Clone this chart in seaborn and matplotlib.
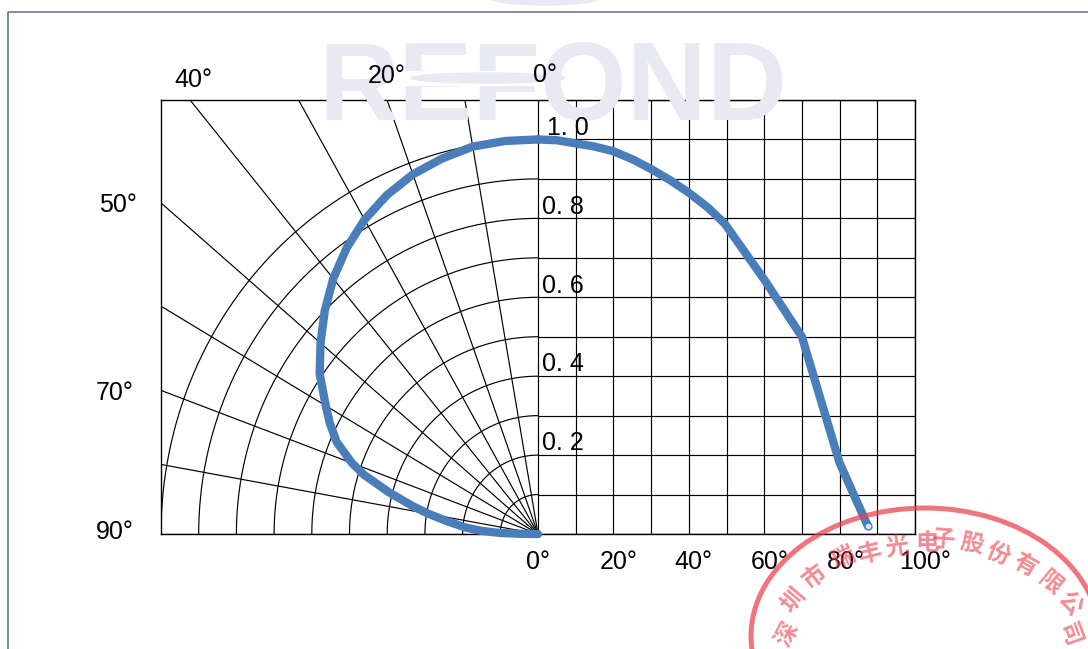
import numpy as np
import pandas as pd
import matplotlib
matplotlib.use("Agg")
import matplotlib.pyplot as plt
from matplotlib.lines import Line2D
from matplotlib.patches import Ellipse, Rectangle
import seaborn as sns

# Left half: angle (deg) / relative intensity
left_angle = [0, 5, 10, 15, 20, 25, 30, 35, 40, 45, 50, 55, 60, 63, 66.4, 70, 72, 75, 78, 80, 82, 85, 87, 88.5, 89.3, 90]
left_intensity = [1.0, 1.0, 0.997, 0.985, 0.97, 0.948, 0.92, 0.885, 0.845, 0.80, 0.753, 0.707, 0.65, 0.62, 0.583, 0.525,
                  0.485, 0.41, 0.34, 0.295, 0.25, 0.195, 0.15, 0.10, 0.05, 0.0]
# Right half: angle (deg) on the linear scale / relative intensity
right_angle = [0, 5, 10, 15, 20, 25, 30, 35, 40, 45, 49.5, 60, 70, 75, 80, 87.5]
right_intensity = [1.0, 0.998, 0.99, 0.982, 0.97, 0.95, 0.925, 0.897, 0.865, 0.828, 0.787, 0.645, 0.50, 0.34, 0.18, 0.02]

grid_radii = [0.1, 0.2, 0.3, 0.4, 0.5, 0.6, 0.7, 0.8, 0.9, 1.0]
radial_angles = [10, 20, 30, 40, 50, 60, 70, 80]
x_grid = [0, 10, 20, 30, 40, 50, 60, 70, 80, 90, 100]
y_grid = [0, 0.1, 0.2, 0.3, 0.4, 0.5, 0.6, 0.7, 0.8, 0.9, 1.0, 1.1]
bottom_labels = ["0°", "20°", "40°", "60°", "80°", "100°"]
bottom_values = [0, 20, 40, 60, 80, 100]
value_labels = ["1. 0", "0. 8", "0. 6", "0. 4", "0. 2"]
value_levels = [1.0, 0.8, 0.6, 0.4, 0.2]
stamp_chars = list("深圳市瑞丰光电子股份有限公司")

W, H = 1088, 649
sns.set_theme(style="white")
plt.rcParams["font.family"] = ["Liberation Sans", "DejaVu Sans"]
fig = plt.figure(figsize=(W / 100, H / 100), dpi=100, facecolor="white")


def fx(px):
    return px / W


def fy(py):
    return 1 - py / H


# Frame of the page
fig.add_artist(Line2D([fx(8), fx(8), 1], [0, fy(12), fy(12)], color="#5c6b96", lw=1.1))

# Watermark behind the chart
LAV = "#e9e9f3"
fig.text(fx(553), fy(120), "REFOND", color=LAV, fontsize=80, fontweight="bold",
         ha="center", va="baseline", zorder=0.5)
fig.add_artist(Rectangle((fx(405), fy(85)), (535 - 405) / W, 14 / H, transform=fig.transFigure,
                         color="white", zorder=0.6))
fig.add_artist(Ellipse((fx(488), fy(78)), 154 / W, 10 / H, transform=fig.transFigure,
                       color=LAV, zorder=0.7))
fig.add_artist(Ellipse((fx(545), fy(-2)), 110 / W, 14 / H, transform=fig.transFigure,
                       color=LAV, zorder=0.7))

ax = fig.add_axes([fx(161), fy(534), (915 - 161) / W, (534 - 100) / H])
ax.patch.set_alpha(0)
ax.set_xlim(-100, 100)
ax.set_ylim(0, 1.1)
ax.set_xticks([])
ax.set_yticks([])
for s in ax.spines.values():
    s.set_color("black")
    s.set_linewidth(1.0)

GRID = dict(color="black", lw=0.85, solid_capstyle="butt", zorder=1)
for x in x_grid:
    ax.plot([x, x], [0, 1.1], **GRID)
for y in y_grid:
    ax.plot([0, 100], [y, y], **GRID)
ax.plot([-100, 100], [0, 0], **GRID)

t = np.radians(np.linspace(0, 90, 181))
for r in grid_radii:
    ax.plot(-100 * r * np.sin(t), r * np.cos(t), **GRID)
for a in radial_angles:
    th = np.radians(a)
    reach = min(1 / np.sin(th), 1.1 / np.cos(th))
    ax.plot([0, -100 * reach * np.sin(th)], [0, reach * np.cos(th)], **GRID)

# Measured curve
th = np.radians(left_angle)
left_df = pd.DataFrame({"x": -100 * np.array(left_intensity) * np.sin(th),
                        "y": np.array(left_intensity) * np.cos(th)})
right_df = pd.DataFrame({"x": right_angle, "y": right_intensity})
BLUE = "#4a7ebb"
for df in (left_df, right_df):
    sns.lineplot(data=df, x="x", y="y", ax=ax, sort=False, estimator=None, color=BLUE, lw=6.0,
                 clip_on=False, zorder=3, solid_joinstyle="round", solid_capstyle="round")
ax.plot(right_angle[-1], right_intensity[-1], "o", ms=5, mfc="#dce8f5", mec=BLUE, mew=1, zorder=4)
ax.set_xlabel("")
ax.set_ylabel("")

# Text labels
FS = 18
TXT = dict(color="black", fontsize=FS, ha="center", va="center", zorder=5)
bottom_shift = [0, 5, 5, 5, 6, 10]
for lab, val, dx in zip(bottom_labels, bottom_values, bottom_shift):
    fig.text(fx(538 + val * 3.77 + dx), fy(562), lab, **TXT)
for lab, val in zip(value_labels, value_levels):
    px = 568 if val == 1.0 else 563
    py = 534 - 394 * val - 12
    fig.text(fx(px), fy(py), lab, **TXT)
for lab, px, py in zip(["40°", "20°", "0°", "50°", "70°", "90°"],
                       [193, 387, 545, 118, 115, 115],
                       [80, 76, 75, 205, 393, 532]):
    fig.text(fx(px), fy(py), lab, **TXT)

# Company stamp on top
RED = "#e8404c"
fig.add_artist(Ellipse((fx(925), fy(636)), 348 / W, 256 / H, fill=False, ec=RED, lw=3.6,
                       alpha=0.72, transform=fig.transFigure, zorder=6))
char_x = [787, 793, 815, 843, 870, 897, 927, 943, 972, 998, 1025, 1050, 1070, 1070]
char_y = [634, 600, 577, 558, 553, 548, 543, 540, 543, 555, 565, 583, 603, 634]
char_r = [62, 50, 38, 25, 14, 7, 0, -4, -12, -22, -30, -40, -50, -70]
for ch, px, py, rot in zip(stamp_chars, char_x, char_y, char_r):
    fig.text(fx(px), fy(py), ch, color=RED, alpha=0.6, fontsize=17, fontweight="bold", rotation=rot,
             ha="center", va="center", family=["Noto Sans CJK SC", "DejaVu Sans"], zorder=6)

fig.savefig("out.png", dpi=100)
